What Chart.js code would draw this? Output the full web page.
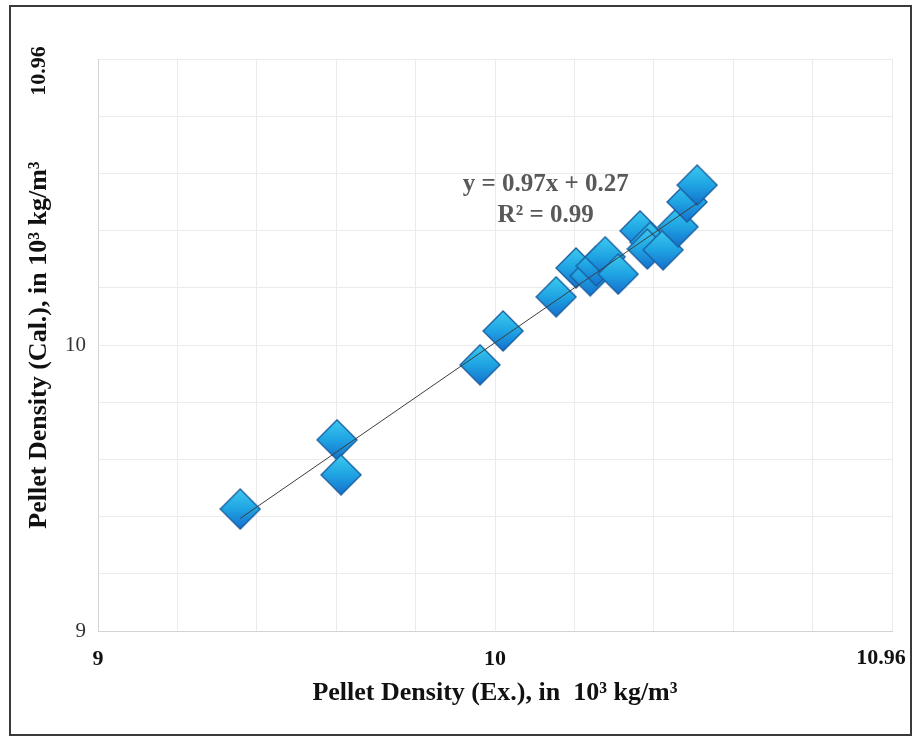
<!DOCTYPE html>
<html>
<head>
<meta charset="utf-8">
<title>Pellet Density</title>
<script src="https://cdn.jsdelivr.net/npm/chart.js@4.4.1/dist/chart.umd.min.js"></script>
<style>
  html, body { margin: 0; padding: 0; background: #fff; }
  #wrap { position: relative; width: 914px; height: 738px; }
</style>
</head>
<body>
<div id="wrap"><canvas id="densityChart" width="914" height="738"></canvas></div>
<script>
// Pellet density, experimental (x) vs calculated (y), in 10^3 kg/m^3
const expDensity = [9.351, 9.590, 9.600, 9.943, 10.000, 10.131, 10.180, 10.215, 10.230, 10.252, 10.284, 10.338, 10.363, 10.356, 10.395, 10.432, 10.454, 10.479];
const calDensity = [9.418, 9.655, 9.535, 9.912, 10.028, 10.145, 10.244, 10.217, 10.251, 10.282, 10.223, 10.371, 10.332, 10.309, 10.306, 10.385, 10.470, 10.528];

// axis range and the labelled ticks
const axisMin = 9;
const axisMax = 10.96;
const gridStep = 0.196;
const tickValues = [9, 9.98, 10.96];
const tickLabels = ['9', '10', '10.96'];

const equationText = ['y = 0.97x + 0.27', 'R\u00b2 = 0.99'];

// least squares trend line through the points
function trendLine(xs, ys) {
    const n = xs.length;
    let sx = 0, sy = 0, sxx = 0, sxy = 0;
    for (let i = 0; i < n; i++) {
        sx += xs[i]; sy += ys[i];
        sxx += xs[i] * xs[i]; sxy += xs[i] * ys[i];
    }
    const m = (n * sxy - sx * sy) / (n * sxx - sx * sx);
    const b = (sy - m * sx) / n;
    const x0 = Math.min(...xs), x1 = Math.max(...xs);
    return [{x: x0, y: m * x0 + b}, {x: x1, y: m * x1 + b}];
}

// diamond marker with a blue gradient
function makeDiamond(size) {
    const c = document.createElement('canvas');
    c.width = size; c.height = size;
    const g = c.getContext('2d');
    const h = size / 2;
    const grad = g.createLinearGradient(0, 1, 0, size - 1);
    grad.addColorStop(0, '#3ccaef');
    grad.addColorStop(0.5, '#1fa4e3');
    grad.addColorStop(1, '#1670cd');
    g.beginPath();
    g.moveTo(h, 1);
    g.lineTo(size - 1, h);
    g.lineTo(h, size - 1);
    g.lineTo(1, h);
    g.closePath();
    g.fillStyle = grad;
    g.fill();
    g.lineWidth = 1.3;
    g.strokeStyle = '#1a5c9e';
    g.stroke();
    return c;
}

const points = expDensity.map((x, i) => ({x: x, y: calDensity[i]}));

function gridTicks(scale) {
    const t = [];
    for (let k = 0; k <= 10; k++) t.push({value: +(axisMin + k * gridStep).toFixed(3)});
    scale.ticks = t;
}

function labelFor(value) {
    for (let i = 0; i < tickValues.length; i++) {
        if (Math.abs(value - tickValues[i]) < 0.001) return tickLabels[i];
    }
    return '';
}

const isMax = (v) => Math.abs(v - axisMax) < 0.001;

const extrasPlugin = {
    id: 'extras',
    beforeDraw(chart) {
        const ctx = chart.ctx;
        ctx.save();
        ctx.fillStyle = '#ffffff';
        ctx.fillRect(0, 0, chart.width, chart.height);
        ctx.restore();
    },
    afterDraw(chart) {
        const ctx = chart.ctx;
        const xs = chart.scales.x, ys = chart.scales.y;
        ctx.save();
        // outer frame
        ctx.strokeStyle = '#3a3a3a';
        ctx.lineWidth = 2;
        ctx.strokeRect(10, 6, 901, 729);
        ctx.font = 'bold 22px "Liberation Serif"';
        ctx.fillStyle = '#111';
        ctx.textAlign = 'center';
        ctx.textBaseline = 'middle';
        // last x label sits a little inside the plot edge
        ctx.fillText(tickLabels[2], xs.getPixelForValue(axisMax) - 11, xs.top + 27);
        // rotated top label of the y axis
        ctx.translate(39, ys.getPixelForValue(axisMax) + 12);
        ctx.rotate(-Math.PI / 2);
        ctx.fillText(tickLabels[2], 0, 0);
        ctx.restore();

        // trend equation
        ctx.save();
        ctx.font = 'bold 25px "Liberation Serif"';
        ctx.fillStyle = '#595959';
        ctx.textAlign = 'center';
        ctx.textBaseline = 'middle';
        const ex = xs.getPixelForValue(10.105);
        const ey = ys.getPixelForValue(10.53);
        ctx.fillText(equationText[0], ex, ey);
        ctx.fillText(equationText[1], ex, ey + 31);
        ctx.restore();
    }
};

window.onload = function() {
    new Chart(document.getElementById('densityChart'), {
        type: 'scatter',
        data: {
            datasets: [{
                type: 'line',
                label: 'Trend',
                data: trendLine(expDensity, calDensity),
                borderColor: '#3d3d3d',
                borderWidth: 1,
                pointRadius: 0,
                fill: false,
                order: 0
            }, {
                label: 'Pellet density',
                data: points,
                pointStyle: makeDiamond(42),
                pointRadius: 21,
                pointHoverRadius: 21,
                order: 1
            }]
        },
        options: {
            responsive: false,
            animation: false,
            layout: { padding: { left: 0, top: 59, right: 22, bottom: 0 } },
            plugins: {
                legend: { display: false },
                tooltip: { enabled: false }
            },
            scales: {
                x: {
                    type: 'linear',
                    min: axisMin,
                    max: axisMax,
                    afterBuildTicks: gridTicks,
                    afterFit(scale) {
                        scale.height = 107;
                        scale.paddingLeft = 0;
                        scale.paddingRight = 0;
                    },
                    grid: { color: '#ebebeb', drawTicks: false },
                    border: { color: '#d4d4d4' },
                    ticks: {
                        padding: 15,
                        autoSkip: false,
                        maxRotation: 0,
                        color: '#111',
                        font: { family: 'Liberation Serif', size: 22, weight: 'bold' },
                        callback: (v) => (isMax(v) ? '' : labelFor(v))
                    },
                    title: {
                        display: true,
                        text: 'Pellet Density (Ex.), in  10\u00b3 kg/m\u00b3',
                        color: '#111',
                        font: { family: 'Liberation Serif', size: 26, weight: 'bold' },
                        padding: { top: 0, bottom: 29 }
                    }
                },
                y: {
                    type: 'linear',
                    min: axisMin,
                    max: axisMax,
                    afterBuildTicks: gridTicks,
                    afterFit(scale) {
                        scale.width = 98;
                        scale.paddingTop = 0;
                        scale.paddingBottom = 0;
                    },
                    grid: { color: '#ebebeb', drawTicks: false },
                    border: { color: '#d4d4d4' },
                    ticks: {
                        padding: 12,
                        autoSkip: false,
                        color: '#333',
                        font: { family: 'Liberation Serif', size: 21 },
                        callback: (v) => (isMax(v) ? '' : labelFor(v))
                    },
                    title: {
                        display: true,
                        text: 'Pellet Density (Cal.), in 10\u00b3 kg/m\u00b3',
                        color: '#111',
                        font: { family: 'Liberation Serif', size: 26, weight: 'bold' },
                        padding: { top: 24, bottom: 0 }
                    }
                }
            }
        },
        plugins: [extrasPlugin]
    });
};
</script>
</body>
</html>
